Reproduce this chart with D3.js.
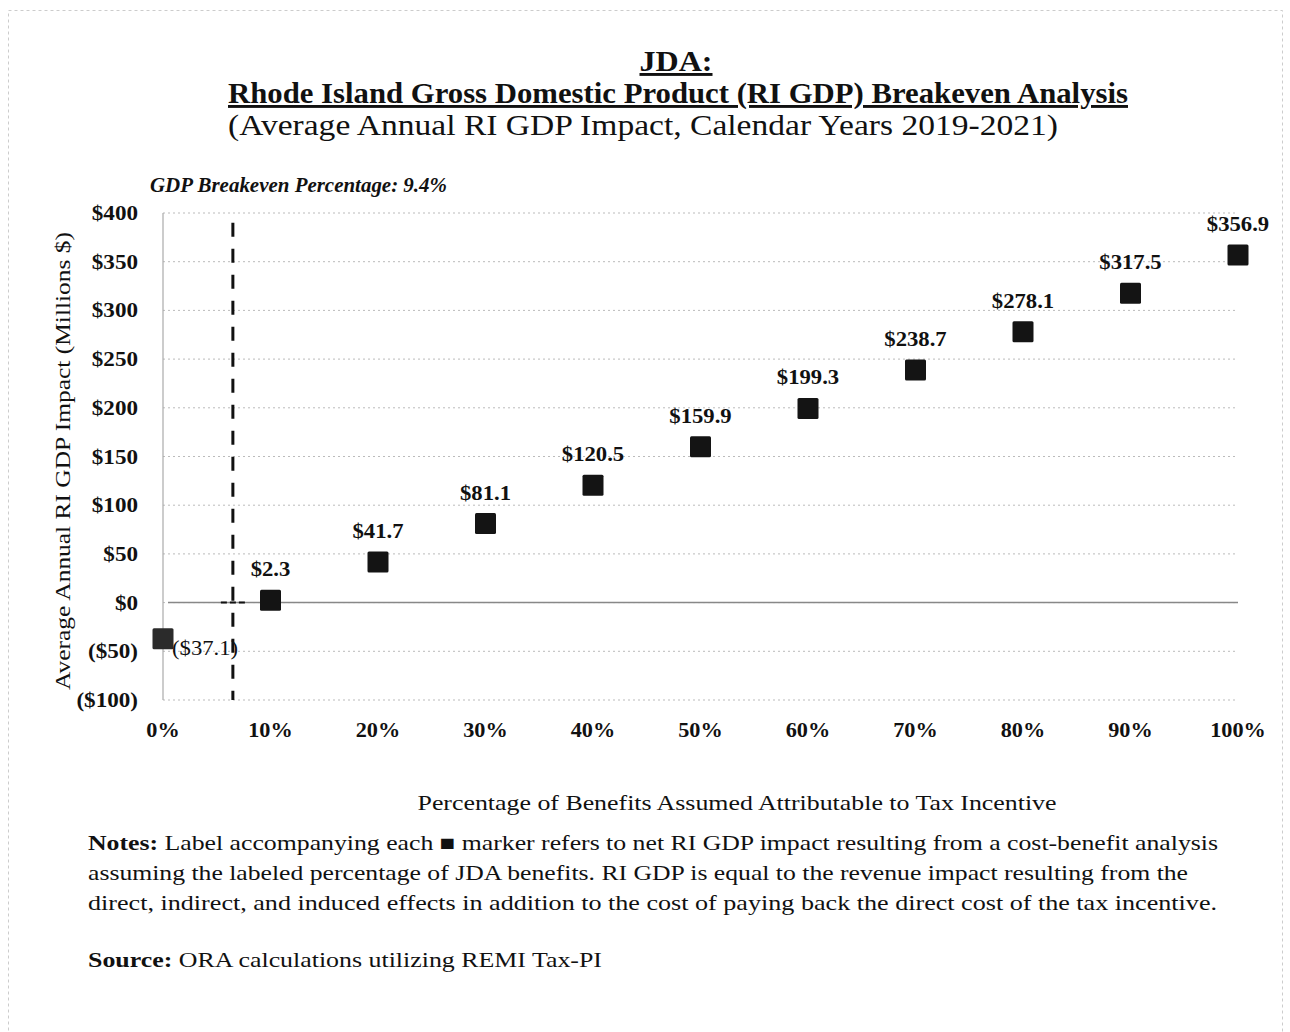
<!DOCTYPE html>
<html><head><meta charset="utf-8">
<script src="https://cdn.jsdelivr.net/npm/d3@7"></script>
<style>
html,body{margin:0;padding:0;background:#fff;}
svg{display:block;font-family:"Liberation Serif","Times New Roman",serif;}
</style></head>
<body>
<svg id="c" width="1290" height="1032"></svg>
<script>
const percents = [0,10,20,30,40,50,60,70,80,90,100];
const gdpValues = [-37.1,2.3,41.7,81.1,120.5,159.9,199.3,238.7,278.1,317.5,356.9];
const valueLabels = ["($37.1)","$2.3","$41.7","$81.1","$120.5","$159.9","$199.3","$238.7","$278.1","$317.5","$356.9"];
const yTicks = [-100,-50,0,50,100,150,200,250,300,350,400];
const yTickLabels = ["($100)","($50)","$0","$50","$100","$150","$200","$250","$300","$350","$400"];
const xTickLabels = ["0%","10%","20%","30%","40%","50%","60%","70%","80%","90%","100%"];
const breakevenLabel = "GDP Breakeven Percentage: 9.4%";
const breakevenLinePct = 6.5; // where the dashed line is drawn in the original

const svg = d3.select("#c");
const x = d3.scaleLinear().domain([0,100]).range([163,1238]);
const y = d3.scaleLinear().domain([-100,400]).range([700,213]);

// horizontal stretch helpers (scan is slightly wider than the font)
function stretchTo(sel, w){ sel.attr("textLength", w).attr("lengthAdjust","spacingAndGlyphs"); }
function stretchBy(sel, f){ sel.each(function(){ const l=this.getComputedTextLength(); d3.select(this).attr("textLength", l*f).attr("lengthAdjust","spacingAndGlyphs"); }); }

// faint page border
svg.append("rect").attr("x",8.5).attr("y",10.5).attr("width",1274).attr("height",1030)
  .attr("fill","none").attr("stroke","#ccc").attr("stroke-dasharray","3,3").attr("stroke-width",1);

// titles
stretchTo(svg.append("text").attr("x",676).attr("y",71).attr("text-anchor","middle")
  .attr("font-size",29).attr("font-weight","bold").attr("text-decoration","underline").attr("fill","#111").text("JDA:"), 73);
stretchTo(svg.append("text").attr("x",678).attr("y",103).attr("text-anchor","middle")
  .attr("font-size",29).attr("font-weight","bold").attr("text-decoration","underline").attr("fill","#111")
  .text("Rhode Island Gross Domestic Product (RI GDP) Breakeven Analysis"), 900);
stretchTo(svg.append("text").attr("x",643).attr("y",135).attr("text-anchor","middle")
  .attr("font-size",29).attr("fill","#111")
  .text("(Average Annual RI GDP Impact, Calendar Years 2019-2021)"), 830);

stretchTo(svg.append("text").attr("x",150).attr("y",192).attr("font-size",20).attr("font-weight","bold")
  .attr("font-style","italic").attr("fill","#111").text(breakevenLabel), 297);

// gridlines
svg.append("g").selectAll("line").data(yTicks).join("line")
  .attr("x1",163).attr("x2",1238).attr("y1",d=>y(d)).attr("y2",d=>y(d))
  .attr("stroke","#bbb").attr("stroke-width",1).attr("stroke-dasharray","2,3");

// y axis line
svg.append("line").attr("x1",x(0)).attr("x2",x(0)).attr("y1",y(400)).attr("y2",y(-100))
  .attr("stroke","#aaa").attr("stroke-width",1.2);

// zero line
svg.append("line").attr("x1",x(0)+5).attr("x2",x(100)).attr("y1",y(0)).attr("y2",y(0))
  .attr("stroke","#888").attr("stroke-width",1.5);
svg.append("line").attr("x1",x(breakevenLinePct)-12).attr("x2",x(breakevenLinePct)+15).attr("y1",y(0)).attr("y2",y(0))
  .attr("stroke","#111").attr("stroke-width",2).attr("stroke-dasharray","6,3");

// breakeven dashed vertical line
svg.append("line").attr("x1",x(breakevenLinePct)).attr("x2",x(breakevenLinePct))
  .attr("y1",y(390)).attr("y2",y(-100))
  .attr("stroke","#111").attr("stroke-width",3).attr("stroke-dasharray","14,12");

// y tick labels
stretchBy(svg.append("g").selectAll("text").data(yTicks).join("text")
  .attr("x",138).attr("y",d=>y(d)+7).attr("text-anchor","end")
  .attr("font-size",21).attr("font-weight","bold").attr("fill","#111")
  .text((d,i)=>yTickLabels[i]), 1.1);

// x tick labels
stretchBy(svg.append("g").selectAll("text").data(percents).join("text")
  .attr("x",d=>x(d)).attr("y",737).attr("text-anchor","middle")
  .attr("font-size",21).attr("font-weight","bold").attr("fill","#111")
  .text((d,i)=>xTickLabels[i]), 1.06);

// axis titles
stretchTo(svg.append("text").attr("transform","translate(70,461) rotate(-90)").attr("text-anchor","middle")
  .attr("font-size",22).attr("fill","#111").text("Average Annual RI GDP Impact (Millions $)"), 458);
stretchTo(svg.append("text").attr("x",737).attr("y",810).attr("text-anchor","middle")
  .attr("font-size",21).attr("fill","#111").text("Percentage of Benefits Assumed Attributable to Tax Incentive"), 639);

// markers
const s = 21;
svg.append("g").selectAll("rect").data(percents).join("rect")
  .attr("x",d=>x(d)-s/2).attr("y",(d,i)=>y(gdpValues[i])-s/2)
  .attr("width",s).attr("height",s).attr("rx",1.5)
  .attr("fill",(d,i)=>i===0?"#2b2b2b":"#141414");

// value labels
stretchBy(svg.append("g").selectAll("text").data(percents).join("text")
  .attr("x",(d,i)=>i===0? x(d)+9 : x(d))
  .attr("y",(d,i)=>i===0? y(gdpValues[i])+16 : y(gdpValues[i])-24)
  .attr("text-anchor",(d,i)=>i===0?"start":"middle")
  .attr("font-size",21).attr("font-weight",(d,i)=>i===0?"normal":"bold").attr("fill","#111")
  .text((d,i)=>valueLabels[i]), 1.08);

// notes
const notes = svg.append("g").attr("font-size",21).attr("fill","#111");
const n1 = notes.append("text").attr("x",88).attr("y",850);
n1.append("tspan").attr("font-weight","bold").text("Notes:");
n1.append("tspan").text(" Label accompanying each \u25A0 marker refers to net RI GDP impact resulting from a cost-benefit analysis");
stretchTo(n1, 1130);
stretchTo(notes.append("text").attr("x",88).attr("y",880).text("assuming the labeled percentage of JDA benefits. RI GDP is equal to the revenue impact resulting from the"), 1100);
stretchTo(notes.append("text").attr("x",88).attr("y",910).text("direct, indirect, and induced effects in addition to the cost of paying back the direct cost of the tax incentive."), 1129);
const src = notes.append("text").attr("x",88).attr("y",967);
src.append("tspan").attr("font-weight","bold").text("Source:");
src.append("tspan").text(" ORA calculations utilizing REMI Tax-PI");
stretchTo(src, 514);
</script>
</body></html>
